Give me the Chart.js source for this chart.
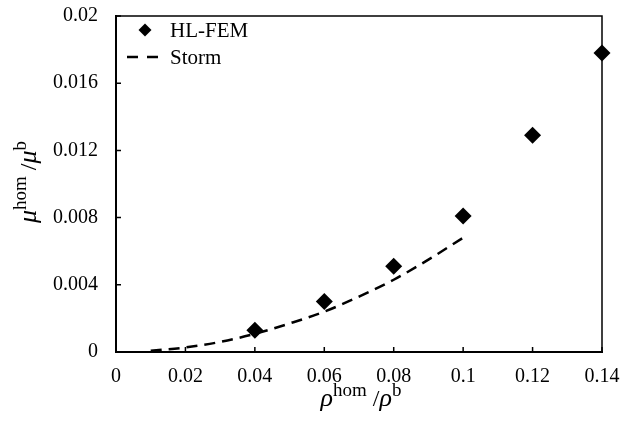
<!DOCTYPE html>
<html>
<head>
<meta charset="utf-8">
<script src="https://cdn.jsdelivr.net/npm/chart.js@4"></script>
<style>
  body { margin: 0; background: #fff; }
</style>
</head>
<body>
<canvas id="chart" width="622" height="423"></canvas>
<script>
// values
const femX = [0.04, 0.06, 0.08, 0.1, 0.12, 0.14]
const femY = [0.0013, 0.003, 0.0051, 0.0081, 0.0129, 0.0178]

const stormX = [0.01, 0.02, 0.03, 0.04, 0.05, 0.06, 0.07, 0.08, 0.09, 0.1]
const stormY = [0.00007, 0.00027, 0.0006, 0.00108, 0.0017, 0.0024, 0.0033, 0.0043, 0.0055, 0.0068]

const xTicks = [0, 0.02, 0.04, 0.06, 0.08, 0.1, 0.12, 0.14]
const xTickLabels = ['0', '0.02', '0.04', '0.06', '0.08', '0.1', '0.12', '0.14']
const yTicks = [0, 0.004, 0.008, 0.012, 0.016, 0.02]
const yTickLabels = ['0', '0.004', '0.008', '0.012', '0.016', '0.02']

const serif = "'Liberation Serif', 'Times New Roman', serif"

function richText(ctx, parts, cx, cy, rotate) {
    ctx.save()
    ctx.translate(cx, cy)
    if (rotate) ctx.rotate(-Math.PI / 2)
    ctx.fillStyle = '#000'
    ctx.textBaseline = 'alphabetic'
    let total = 0
    parts.forEach(p => {
        ctx.font = (p.italic ? 'italic ' : '') + p.size + 'px ' + serif
        p.w = ctx.measureText(p.t).width
        total += p.w
    })
    let x = -total / 2
    parts.forEach(p => {
        ctx.font = (p.italic ? 'italic ' : '') + p.size + 'px ' + serif
        ctx.fillText(p.t, x, -(p.rise || 0))
        x += p.w
    })
    ctx.restore()
}

const titleX = [
    { t: 'ρ', italic: true, size: 26 },
    { t: 'hom', size: 19, rise: 10 },
    { t: ' /', size: 24 },
    { t: 'ρ', italic: true, size: 26 },
    { t: 'b', size: 19, rise: 10 }
]
const titleY = [
    { t: 'μ', italic: true, size: 26 },
    { t: 'hom', size: 19, rise: 10 },
    { t: ' /', size: 24 },
    { t: 'μ', italic: true, size: 26 },
    { t: 'b', size: 19, rise: 10 }
]

const decorations = {
    id: 'decorations',
    afterDraw(chart) {
        const ctx = chart.ctx
        const a = chart.chartArea
        const xs = chart.scales.x
        const ys = chart.scales.y

        ctx.save()
        // frame
        ctx.strokeStyle = '#000'
        ctx.lineWidth = 1.5
        ctx.beginPath()
        ctx.moveTo(a.left, a.top)
        ctx.lineTo(a.right, a.top)
        ctx.lineTo(a.right, a.bottom)
        ctx.stroke()

        // inward tick marks
        ctx.beginPath()
        xTicks.forEach(v => {
            const px = xs.getPixelForValue(v)
            ctx.moveTo(px, a.bottom)
            ctx.lineTo(px, a.bottom - 5)
        })
        yTicks.forEach(v => {
            const py = ys.getPixelForValue(v)
            ctx.moveTo(a.left, py)
            ctx.lineTo(a.left + 5, py)
        })
        ctx.stroke()

        // legend
        const lx = a.left + 29
        const ly1 = a.top + 14
        const ly2 = a.top + 41
        ctx.fillStyle = '#000'
        ctx.beginPath()
        ctx.moveTo(lx, ly1 - 6.5)
        ctx.lineTo(lx + 6.5, ly1)
        ctx.lineTo(lx, ly1 + 6.5)
        ctx.lineTo(lx - 6.5, ly1)
        ctx.closePath()
        ctx.fill()

        ctx.lineWidth = 2.5
        ctx.setLineDash([11, 9])
        ctx.beginPath()
        ctx.moveTo(a.left + 11, ly2)
        ctx.lineTo(a.left + 42, ly2)
        ctx.stroke()
        ctx.setLineDash([])

        ctx.font = '21px ' + serif
        ctx.textBaseline = 'middle'
        ctx.textAlign = 'left'
        ctx.fillText('HL-FEM', a.left + 54, ly1 + 1)
        ctx.fillText('Storm', a.left + 54, ly2 + 1)
        ctx.restore()

        // axis titles
        const cx = (a.left + a.right) / 2
        const cy = (a.top + a.bottom) / 2
        richText(ctx, titleX, cx + 2, 406, false)
        richText(ctx, titleY, 36, cy - 2, true)
    }
}

const ctx = document.getElementById('chart').getContext('2d')

const chart = new Chart(ctx, {
    type: 'scatter',
    data: {
        datasets: [
            {
                label: 'HL-FEM',
                data: femX.map((x, i) => ({ x: x, y: femY[i] })),
                pointStyle: 'rectRot',
                pointRadius: 8.5,
                pointHoverRadius: 8.5,
                backgroundColor: '#000',
                borderColor: '#000',
                borderWidth: 0,
                showLine: false,
                clip: false
            },
            {
                label: 'Storm',
                data: stormX.map((x, i) => ({ x: x, y: stormY[i] })),
                showLine: true,
                pointRadius: 0,
                borderColor: '#000',
                borderWidth: 2.5,
                borderDash: [11, 7],
                cubicInterpolationMode: 'monotone',
                fill: false,
                clip: false
            }
        ]
    },
    options: {
        responsive: false,
        animation: false,
        layout: { autoPadding: false, padding: { top: 16, right: 20, left: 0, bottom: 0 } },
        plugins: {
            legend: { display: false },
            tooltip: { enabled: false }
        },
        scales: {
            x: {
                type: 'linear',
                min: 0,
                max: 0.14,
                afterBuildTicks: scale => { scale.ticks = xTicks.map(v => ({ value: v })) },
                afterFit: scale => {
                    scale.height = 71
                    scale.paddingLeft = 0
                    scale.paddingRight = 0
                },
                grid: { display: true, drawOnChartArea: false, drawTicks: false },
                border: { display: true, color: '#000', width: 2 },
                ticks: {
                    color: '#000',
                    padding: 13,
                    maxRotation: 0,
                    font: { family: serif, size: 20 },
                    callback: (v) => xTickLabels[xTicks.indexOf(v)]
                }
            },
            y: {
                type: 'linear',
                min: 0,
                max: 0.02,
                afterBuildTicks: scale => { scale.ticks = yTicks.map(v => ({ value: v })) },
                afterFit: scale => {
                    scale.width = 116
                    scale.paddingTop = 0
                    scale.paddingBottom = 0
                },
                grid: { display: true, drawOnChartArea: false, drawTicks: false },
                border: { display: true, color: '#000', width: 2 },
                ticks: {
                    color: '#000',
                    padding: 18,
                    font: { family: serif, size: 20 },
                    callback: (v) => yTickLabels[yTicks.indexOf(v)]
                }
            }
        }
    },
    plugins: [decorations]
})
</script>
</body>
</html>
